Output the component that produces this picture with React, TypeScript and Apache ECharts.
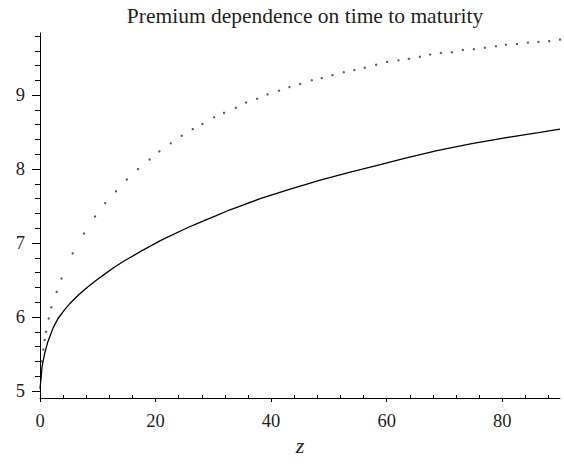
import React, { useEffect, useRef } from 'react';
import * as echarts from 'echarts';

const titleText = 'Premium dependence on time to maturity';
const xName = 'z';

// solid curve
const solidX = [0, 0.12, 0.35, 0.81, 1.38, 2.25, 3.12, 4.27, 5.14, 6.7, 8.31, 9.8, 11.2, 12.8, 14.4, 17.5, 21.0, 25.6, 27.7, 30.5, 32.9, 38.1, 43.3, 48.5, 53.7, 58.9, 62.9, 68.7, 74.5, 80.2, 86.0, 90.0];
const solidY = [5.03, 5.12, 5.33, 5.51, 5.67, 5.85, 5.98, 6.10, 6.18, 6.30, 6.41, 6.50, 6.58, 6.67, 6.75, 6.89, 7.04, 7.21, 7.28, 7.37, 7.45, 7.6, 7.73, 7.85, 7.96, 8.06, 8.14, 8.25, 8.34, 8.42, 8.49, 8.54];

// dotted curve
const dotX = [0.29, 0.57, 0.81, 1.04, 1.51, 1.96, 2.89, 3.72, 5.66, 7.62, 9.52, 11.29, 13.16, 15.03, 16.97, 18.96, 20.66, 22.63, 24.54, 26.44, 28.10, 30.13, 31.86, 33.89, 35.67, 37.58, 39.39, 41.38, 43.17, 45.02, 47.04, 48.77, 50.61, 52.58, 54.40, 56.22, 58.18, 60.09, 62.04, 63.84, 65.75, 67.53, 69.38, 71.29, 73.19, 75.10, 77.00, 78.91, 80.64, 82.55, 84.45, 86.28, 88.13, 90.0];
const dotY = [5.40, 5.56, 5.69, 5.80, 5.98, 6.13, 6.34, 6.52, 6.86, 7.13, 7.36, 7.54, 7.70, 7.86, 8.00, 8.13, 8.24, 8.35, 8.45, 8.54, 8.61, 8.70, 8.76, 8.83, 8.90, 8.95, 9.01, 9.06, 9.11, 9.15, 9.20, 9.23, 9.27, 9.31, 9.34, 9.37, 9.41, 9.45, 9.47, 9.49, 9.52, 9.55, 9.57, 9.58, 9.61, 9.62, 9.64, 9.66, 9.68, 9.69, 9.71, 9.72, 9.73, 9.75];

const xMajorTicks = [0, 20, 40, 60, 80];
const xMinorTicks = [4, 8, 12, 16, 24, 28, 32, 36, 44, 48, 52, 56, 64, 68, 72, 76, 84, 88];
const yMajorTicks = [5, 6, 7, 8, 9];
const yMinorTicks = [5.2, 5.4, 5.6, 5.8, 6.2, 6.4, 6.6, 6.8, 7.2, 7.4, 7.6, 7.8, 8.2, 8.4, 8.6, 8.8, 9.2, 9.4, 9.6, 9.8];

const X_MIN = 0, X_MAX = 90, Y_MIN = 4.905, Y_MAX = 9.84;
const FONT = '"Liberation Serif", "DejaVu Serif", serif';
const TEXT = '#231f20';

export default function App() {
  const ref = useRef<HTMLDivElement>(null);
  useEffect(() => {
    if (!ref.current) return;
    const chart = echarts.init(ref.current, undefined, { renderer: 'svg' });
    const axisLine = { show: true, lineStyle: { color: '#000', width: 1 } };
    chart.setOption({
      animation: false,
      backgroundColor: '#fff',
      title: {
        text: titleText,
        left: 300,
        top: 0,
        textAlign: 'center',
        textStyle: { fontFamily: FONT, fontSize: 21.5, fontWeight: 'normal', color: TEXT },
      },
      grid: { left: 40, right: 4, top: 33, bottom: 66, outerBoundsMode: 'none', containLabel: false },
      xAxis: [
        {
          type: 'value', min: X_MIN, max: X_MAX,
          name: xName, nameLocation: 'middle', nameGap: 36,
          nameTextStyle: { fontFamily: FONT, fontStyle: 'italic', fontSize: 22, color: TEXT },
          axisLine,
          splitLine: { show: false },
          axisTick: { show: true, customValues: xMajorTicks, length: 4, lineStyle: { color: '#000' } },
          axisLabel: { customValues: xMajorTicks, margin: 13, fontFamily: FONT, fontSize: 18.5, color: TEXT },
        },
        {
          type: 'value', min: X_MIN, max: X_MAX, position: 'bottom',
          axisLine: { show: false },
          splitLine: { show: false },
          axisTick: { show: true, inside: true, customValues: xMinorTicks, length: 3, lineStyle: { color: '#000' } },
          axisLabel: { show: false },
        },
      ],
      yAxis: [
        {
          type: 'value', min: Y_MIN, max: Y_MAX,
          axisLine,
          splitLine: { show: false },
          axisTick: { show: true, customValues: yMajorTicks, length: 8, lineStyle: { color: '#000' } },
          axisLabel: { customValues: yMajorTicks, margin: 15, fontFamily: FONT, fontSize: 18.5, color: TEXT },
        },
        {
          type: 'value', min: Y_MIN, max: Y_MAX, position: 'left',
          axisLine: { show: false },
          splitLine: { show: false },
          axisTick: { show: true, customValues: yMinorTicks, length: 5, lineStyle: { color: '#000' } },
          axisLabel: { show: false },
        },
      ],
      series: [
        {
          type: 'line',
          xAxisIndex: 0, yAxisIndex: 0,
          data: solidX.map((x, i) => [x, solidY[i]]),
          showSymbol: false,
          smooth: false,
          lineStyle: { color: '#000', width: 1.3 },
          silent: true,
        },
        {
          type: 'scatter',
          xAxisIndex: 0, yAxisIndex: 0,
          data: dotX.map((x, i) => [x, dotY[i]]),
          symbol: 'circle',
          symbolSize: 2.4,
          itemStyle: { color: '#333' },
          silent: true,
        },
      ],
    });
    return () => chart.dispose();
  }, []);
  return <div ref={ref} style={{ position: 'fixed', left: 0, top: 0, width: 564, height: 464 }} />;
}
